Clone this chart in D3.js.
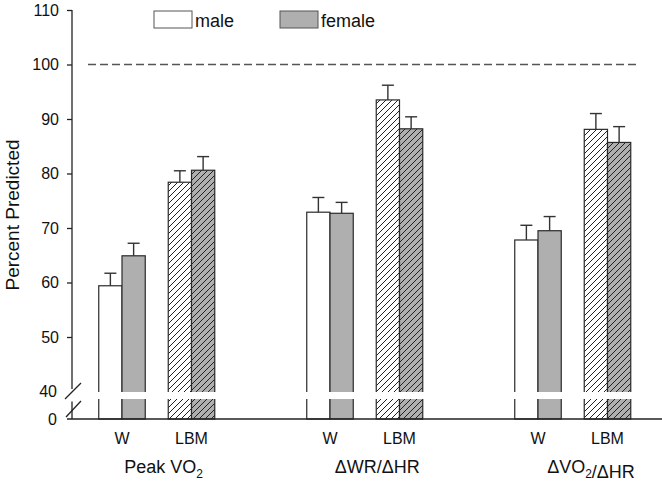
<!DOCTYPE html>
<html>
<head>
<meta charset="utf-8">
<script src="https://cdn.jsdelivr.net/npm/d3@7"></script>
<style>
  html, body { margin: 0; padding: 0; background: #fff; }
  svg { display: block; font-family: "Liberation Sans", Arial, sans-serif; }
</style>
</head>
<body>
<svg id="chart" width="662" height="484"></svg>
<script>
// ---- data ----
const categories = ["Peak VO₂", "ΔWR/ΔHR", "ΔVO₂/ΔHR"];
const normalizations = ["W", "LBM"];
const sexes = ["male", "female"];
const maleW = [59.4, 72.9, 67.8];
const maleLBM = [78.4, 93.5, 88.1];
const femaleW = [64.9, 72.7, 69.5];
const femaleLBM = [80.6, 88.2, 85.7];
const maleWErr = [2.3, 2.7, 2.7];
const maleLBMErr = [2.1, 2.7, 2.9];
const femaleWErr = [2.3, 2.0, 2.6];
const femaleLBMErr = [2.5, 2.2, 2.9];
const yTicks = [50, 60, 70, 80, 90, 100, 110];
const yBreakTicks = [40, 0];
const referenceLine = 100;
const yTitle = "Percent Predicted";

// ---- build table ----
const means = { male: { W: maleW, LBM: maleLBM }, female: { W: femaleW, LBM: femaleLBM } };
const errs = { male: { W: maleWErr, LBM: maleLBMErr }, female: { W: femaleWErr, LBM: femaleLBMErr } };
const rows = [];
categories.forEach((c, ci) => {
  normalizations.forEach(n => {
    sexes.forEach(s => {
      rows.push({ cat: c, norm: n, sex: s, value: means[s][n][ci], err: errs[s][n][ci] });
    });
  });
});

const svg = d3.select("#chart");
const axisX = 72;
const baseY = 419;

// scales
const y = d3.scaleLinear().domain([0, 40, 110]).range([baseY, 391.5, 10]);
const xCat = d3.scaleBand().domain(categories).range([52.75, 676.75]).padding(0);
const xNorm = d3.scalePoint().domain(normalizations).range([-34.75, 34.75]);
const xSex = d3.scaleBand().domain(sexes).range([-23.25, 23.25]).padding(0);
const xCatLabel = d3.scalePoint().domain(categories).range([163.5, 591]);

const gray = "#afafaf";

// hatch pattern
const defs = svg.append("defs");
const pat = defs.append("pattern").attr("id", "hatch").attr("patternUnits", "userSpaceOnUse")
  .attr("width", 6).attr("height", 6);
pat.append("path").attr("d", "M0,6 L6,0 M-1.5,1.5 L1.5,-1.5 M4.5,7.5 L7.5,4.5")
  .attr("stroke", "#222").attr("stroke-width", 1);

const groupCenter = d => xCat(d.cat) + xCat.bandwidth() / 2 + xNorm(d.norm);

// bars
const bars = svg.append("g");
rows.forEach(d => {
  const x0 = groupCenter(d) + xSex(d.sex);
  const w = xSex.bandwidth();
  const fill = d.sex === "male" ? "#fff" : gray;
  bars.append("rect").attr("x", x0).attr("y", y(d.value)).attr("width", w)
    .attr("height", y(0) - y(d.value)).attr("fill", fill);
  if (d.norm === "LBM") {
    bars.append("rect").attr("x", x0).attr("y", y(d.value)).attr("width", w)
      .attr("height", y(0) - y(d.value)).attr("fill", "url(#hatch)");
  }
  bars.append("rect").attr("x", x0).attr("y", y(d.value)).attr("width", w)
    .attr("height", y(0) - y(d.value)).attr("fill", "none")
    .attr("stroke", "#2a2a2a").attr("stroke-width", 1.2);
});

// error bars
const eb = svg.append("g").attr("stroke", "#333").attr("stroke-width", 1.4).attr("fill", "none");
rows.forEach(d => {
  const cx = groupCenter(d) + xSex(d.sex) + xSex.bandwidth() / 2;
  eb.append("line").attr("x1", cx).attr("x2", cx).attr("y1", y(d.value)).attr("y2", y(d.value + d.err));
  eb.append("line").attr("x1", cx - 6).attr("x2", cx + 6).attr("y1", y(d.value + d.err)).attr("y2", y(d.value + d.err));
});

// break band (white)
svg.append("rect").attr("x", axisX + 1).attr("y", y(40) + 0.5).attr("width", 662 - axisX)
  .attr("height", 7).attr("fill", "#fff");

// reference dashed line
svg.append("line").attr("x1", 88).attr("x2", 637).attr("y1", y(referenceLine)).attr("y2", y(referenceLine))
  .attr("stroke", "#555").attr("stroke-width", 1.5).attr("stroke-dasharray", "8,4");

// y axis
const yAxis = d3.axisLeft(y).tickValues(yTicks).tickSize(5).tickPadding(8);
const gy = svg.append("g").attr("transform", `translate(${axisX},0)`).call(yAxis);
gy.select(".domain").remove();
gy.selectAll("line").attr("stroke", "#222").attr("stroke-width", 1.3);
gy.selectAll("text").attr("font-size", 16).attr("fill", "#111").attr("font-family", "Liberation Sans, Arial, sans-serif");

const yAxis2 = d3.axisLeft(y).tickValues(yBreakTicks).tickSize(0).tickPadding(15);
const gy2 = svg.append("g").attr("transform", `translate(${axisX},0)`).call(yAxis2);
gy2.select(".domain").remove();
gy2.selectAll("text").attr("font-size", 16).attr("fill", "#111").attr("font-family", "Liberation Sans, Arial, sans-serif");

// axis segments and break marks
const axG = svg.append("g").attr("stroke", "#222").attr("stroke-width", 1.3);
axG.append("line").attr("x1", axisX).attr("x2", axisX).attr("y1", y(110)).attr("y2", y(40) - 2.5);
axG.append("line").attr("x1", axisX).attr("x2", axisX).attr("y1", y(40) + 10).attr("y2", baseY);
axG.append("line").attr("x1", axisX - 7).attr("x2", axisX + 9).attr("y1", y(40) + 7.5).attr("y2", y(40) - 8.5);
axG.append("line").attr("x1", axisX - 6).attr("x2", axisX + 9).attr("y1", y(40) + 25.5).attr("y2", y(40) + 9.5);
// x axis line
axG.append("line").attr("x1", axisX - 5).attr("x2", 662).attr("y1", baseY).attr("y2", baseY);

// x labels (W / LBM)
const xl = svg.append("g").attr("font-size", 16).attr("fill", "#111").attr("text-anchor", "middle");
categories.forEach(c => {
  normalizations.forEach(n => {
    xl.append("text").attr("x", xCat(c) + xCat.bandwidth() / 2 + xNorm(n)).attr("y", 444).text(n);
  });
});

// category labels with subscript
const cl = svg.append("g").attr("font-size", 18).attr("fill", "#111").attr("text-anchor", "middle");
categories.forEach(c => {
  const t = cl.append("text").attr("x", xCatLabel(c)).attr("y", 473);
  const parts = c.split("₂");
  parts.forEach((p, i) => {
    t.append("tspan").text(p);
    if (i < parts.length - 1) {
      t.append("tspan").attr("font-size", 12).attr("dy", 5).text("2");
      t.append("tspan").attr("dy", -5).text("");
    }
  });
});

// y title
svg.append("text").attr("transform", `translate(19,215) rotate(-90)`).attr("text-anchor", "middle")
  .attr("font-size", 19).attr("fill", "#111").text(yTitle);

// legend
const legX = d3.scalePoint().domain(sexes).range([154, 280]);
sexes.forEach(s => {
  svg.append("rect").attr("x", legX(s)).attr("y", 11).attr("width", 38).attr("height", 17)
    .attr("fill", s === "male" ? "#fff" : gray).attr("stroke", "#555").attr("stroke-width", 1);
  svg.append("text").attr("x", legX(s) + 41).attr("y", 26.5).attr("font-size", 18).attr("fill", "#111").text(s);
});
</script>
</body>
</html>
